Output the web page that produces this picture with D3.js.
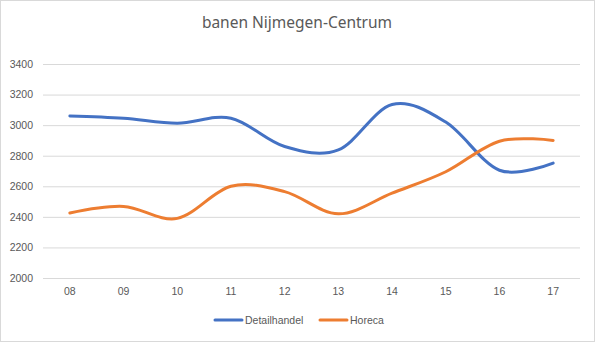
<!DOCTYPE html>
<html><head><meta charset="utf-8">
<script src="https://cdn.jsdelivr.net/npm/d3@7"></script>
<style>body{margin:0;background:#fff}svg{display:block}</style>
</head><body>
<script>
const categories = ["08","09","10","11","12","13","14","15","16","17"];
const detailhandel = [3060, 3045, 3012, 3045, 2860, 2838, 3135, 3020, 2705, 2752];
const horeca = [2425, 2468, 2390, 2600, 2565, 2420, 2555, 2695, 2895, 2900];
const yTicks = [2000, 2200, 2400, 2600, 2800, 3000, 3200, 3400];
const seriesNames = ["Detailhandel", "Horeca"];
const colors = ["#4472C4", "#ED7D31"];

const W = 595, H = 342;
const svg = d3.select("body").append("svg").attr("width", W).attr("height", H);
svg.append("rect").attr("x",0.5).attr("y",0.5).attr("width",W-1).attr("height",H-1)
  .attr("fill","#fff").attr("stroke","#d9d9d9");

const x = d3.scaleBand().domain(categories).range([43, 580]);
const y = d3.scaleLinear().domain([2000, 3400]).range([278, 64]);

svg.append("text").attr("x", 297).attr("y", 28).attr("text-anchor","middle")
  .attr("font-family", "'Noto Sans', sans-serif").attr("font-size", 15.5).attr("fill","#595959")
  .text("banen Nijmegen-Centrum");

const yAxis = svg.append("g").attr("transform","translate(43,0)")
  .call(d3.axisLeft(y).tickValues(yTicks).tickSize(-537).tickPadding(10).tickFormat(d3.format("d")));
yAxis.select(".domain").remove();
yAxis.selectAll("line").attr("stroke","#d9d9d9");
yAxis.selectAll("text").attr("font-family","'Liberation Sans', sans-serif").attr("font-size",10.5).attr("fill","#595959");

const xAxis = svg.append("g").attr("transform","translate(0,278)")
  .call(d3.axisBottom(x).tickSize(0).tickPadding(10));
xAxis.select(".domain").remove();
xAxis.selectAll("text").attr("font-family","'Liberation Sans', sans-serif").attr("font-size",10.5).attr("fill","#595959");

const line = d3.line().x((d,i)=>x(categories[i]) + x.bandwidth()/2).y(d=>y(d)).curve(d3.curveCardinal.tension(0));
[detailhandel, horeca].forEach((s,k)=>{
  svg.append("path").attr("d", line(s)).attr("fill","none").attr("stroke", colors[k])
    .attr("stroke-width", 3).attr("stroke-linecap","round");
});

const legX = [215, 320];
seriesNames.forEach((n,k)=>{
  svg.append("line").attr("x1",legX[k]).attr("x2",legX[k]+27).attr("y1",320).attr("y2",320)
    .attr("stroke",colors[k]).attr("stroke-width",3).attr("stroke-linecap","round");
  svg.append("text").attr("x",legX[k]+30).attr("y",324).attr("font-family","'Liberation Sans', sans-serif")
    .attr("font-size",10.5).attr("fill","#595959").text(n);
});
</script>
</body></html>
